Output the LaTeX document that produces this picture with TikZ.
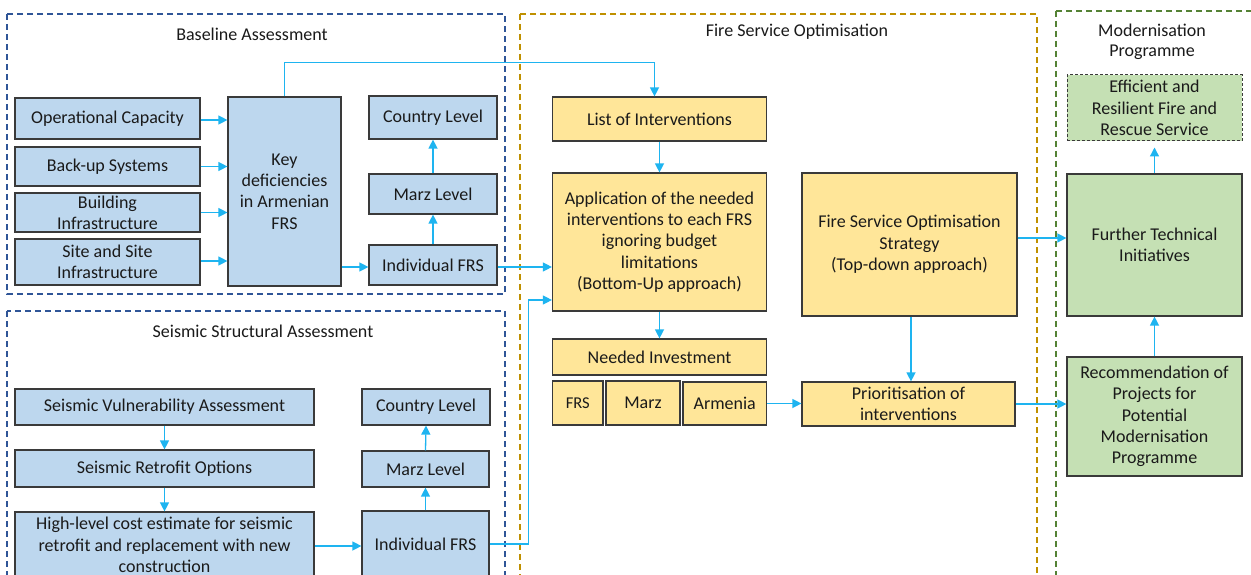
\documentclass[tikz,border=0pt]{standalone}
\usepackage{fontspec}
\setmainfont{Carlito}
\usetikzlibrary{arrows.meta,calc}
\definecolor{bfill}{HTML}{BDD7EE}
\definecolor{yfill}{HTML}{FFE699}
\definecolor{gfill}{HTML}{C5E0B4}
\definecolor{edge}{HTML}{3A3A3A}
\definecolor{arrc}{HTML}{1EB4F0}
\definecolor{dblue}{HTML}{2F5597}
\definecolor{dgold}{HTML}{BF9000}
\definecolor{dgreen}{HTML}{548235}
\definecolor{txt}{HTML}{1A1A1A}
\tikzset{
  base/.style={draw=edge, line width=1.2pt, align=center, inner sep=2pt, text=txt,
    font=\fontsize{18}{21.3}\selectfont},
  bb/.style={base, fill=bfill},
  yb/.style={base, fill=yfill},
  gb/.style={base, fill=gfill},
  arr/.style={draw=arrc, line width=1.3pt, -{Triangle[length=9pt,width=9pt]}},
  cont/.style={line width=1.4pt, dash pattern=on 6pt off 4pt},
  ttl/.style={text=txt, align=center, font=\fontsize{18}{20.5}\selectfont},
}
\begin{document}
\begin{tikzpicture}[x=1pt,y=-1pt]
\useasboundingbox (0,0) rectangle (1251,575);
\fill[white] (0,0) rectangle (1251,575);
% containers
\draw[cont, dblue] (7,14) rectangle (505,294);
\node[ttl] (tba) at (252,34) {Baseline Assessment};
\draw[cont, dblue] (7,311) rectangle (505,620);
\node[ttl] (tssa) at (263,331) {Seismic Structural Assessment};
\draw[cont, dgold] (520,14) rectangle (1037,620);
\node[ttl] (tfso) at (797,32) {Fire Service Optimisation};
\draw[cont, dgreen] (1056,11) rectangle (1270,620);
\node[ttl] (tmp) at (1152,42) {Modernisation\\Programme};
% baseline
\node[bb, minimum width=185, minimum height=41] (op) at (107.5,118.5) {Operational Capacity};
\node[bb, minimum width=185, minimum height=39] (bk) at (107.5,166.5) {Back-up Systems};
\node[bb, minimum width=185, minimum height=39] (bi) at (107.5,212.5) {Building\\Infrastructure};
\node[bb, minimum width=185, minimum height=46] (si) at (107.5,262) {Site and Site\\Infrastructure};
\node[bb, minimum width=113, minimum height=189] (key) at (284.5,191.5) {Key\\deficiencies\\in Armenian\\FRS};
\node[bb, minimum width=128, minimum height=43] (cl1) at (433,117.5) {Country Level};
\node[bb, minimum width=128, minimum height=40] (ml1) at (433,194) {Marz Level};
\node[bb, minimum width=128, minimum height=40] (if1) at (433,265) {Individual FRS};
% seismic
\node[bb, minimum width=299, minimum height=36] (sva) at (164.5,407) {Seismic Vulnerability Assessment};
\node[bb, minimum width=299, minimum height=37] (sro) at (164.5,468.5) {Seismic Retrofit Options};
\node[bb, minimum width=299, minimum height=66] (hlc) at (164.5,545) {High-level cost estimate for seismic\\retrofit and replacement with new\\construction};
\node[bb, minimum width=128, minimum height=36] (cl2) at (426,407) {Country Level};
\node[bb, minimum width=127, minimum height=36] (ml2) at (425.5,469) {Marz Level};
\node[bb, minimum width=127, minimum height=66] (if2) at (425.5,544) {Individual FRS};
% fire service optimisation
\node[yb, minimum width=214, minimum height=44] (loi) at (659.5,119) {List of Interventions};
\node[yb, minimum width=214, minimum height=138] (app) at (659.5,242) {Application of the needed\\interventions to each FRS\\ignoring budget\\limitations\\(Bottom-Up approach)};
\node[yb, minimum width=214, minimum height=36] (ni) at (659.5,357) {Needed Investment};
\node[yb, minimum width=50.5, minimum height=44, font=\fontsize{16.5}{18}\selectfont] (frs) at (577.7,403) {FRS};
\node[yb, minimum width=74, minimum height=44] (marz) at (643,403) {Marz};
\node[yb, minimum width=83.4, minimum height=43] (arm) at (724.7,403.5) {Armenia};
\node[yb, minimum width=215, minimum height=143] (fso) at (909.5,244.5) {Fire Service Optimisation\\Strategy\\(Top-down approach)};
\node[yb, minimum width=213, minimum height=44] (pri) at (908.5,404) {Prioritisation of\\interventions};
% modernisation
\node[gb, minimum width=175, minimum height=66, dash pattern=on 3pt off 2pt, line width=1pt] (eff) at (1154.5,108) {Efficient and\\Resilient Fire and\\Rescue Service};
\node[gb, minimum width=175, minimum height=142] (fti) at (1154.5,245) {Further Technical\\Initiatives};
\node[gb, minimum width=175, minimum height=119] (rec) at (1154.5,416.5) {Recommendation of\\Projects for\\Potential\\Modernisation\\Programme};
% arrows baseline
\draw[arr] ([yshift=-1.5pt]op.east) -- ([yshift=-1.5pt]op.east -| key.west);
\draw[arr] (bk.east) -- (bk.east -| key.west);
\draw[arr] (bi.east) -- (bi.east -| key.west);
\draw[arr] ([yshift=1pt]si.east) -- ([yshift=1pt]si.east -| key.west);
\draw[arr] ([yshift=-2pt]if1.west -| key.east) -- ([yshift=-2pt]if1.west);
\draw[arr] (if1.north) -- (ml1.south);
\draw[arr] (ml1.north) -- (cl1.south);
\draw[arr] (key.north) -- ++(0,-34) -| ([xshift=-5pt]loi.north);
\draw[arr] ([yshift=-2pt]if1.east) -- ([yshift=-2pt]if1.east -| app.west);
% arrows seismic
\draw[arr] (sva.south) -- (sro.north);
\draw[arr] (sro.south) -- (hlc.north);
\draw[arr] ([yshift=-1pt]hlc.east) -- ([yshift=-1pt]hlc.east -| if2.west);
\draw[arr] (if2.north) -- (ml2.south);
\draw[arr] (ml2.north) -- (cl2.south);
\draw[arr] (if2.east) -- ++(39,0) |- ([yshift=-58pt]app.west);
% arrows fso
\draw[arr] (loi.south) -- (app.north);
\draw[arr] (app.south) -- (ni.north);
\draw[arr] (arm.east) -- (arm.east -| pri.west);
\draw[arr] ([xshift=1.5pt]fso.south) -- ([xshift=1.5pt]fso.south |- pri.north);
\draw[arr] ([yshift=6.5pt]fso.east) -- ([yshift=6.5pt]fso.east -| fti.west);
\draw[arr] (pri.east) -- (pri.east -| rec.west);
% arrows modernisation
\draw[arr] (rec.north) -- (fti.south);
\draw[arr, shorten >=6pt] (fti.north) -- (eff.south);
\end{tikzpicture}
\end{document}
